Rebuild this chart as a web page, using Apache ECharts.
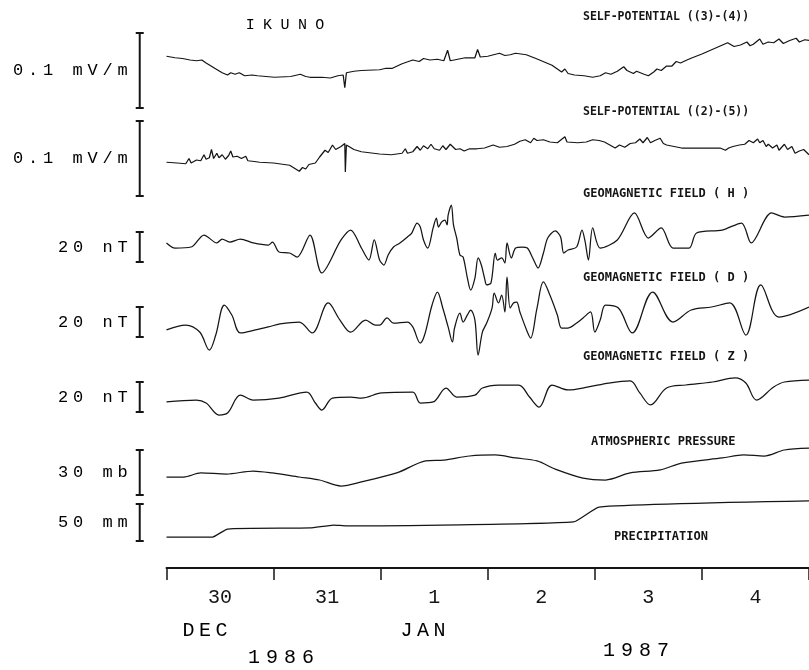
<!DOCTYPE html>
<html><head><meta charset="utf-8">
<script src="https://cdn.jsdelivr.net/npm/echarts@6/dist/echarts.min.js"></script>
<style>html,body{margin:0;padding:0;background:#fff}#c{width:809px;height:670px}</style>
</head><body><div id="c"></div>
<script>
// ---------- DATA (time in days from 30 Dec 1986 00:00) ----------
const dayLabels = ['30', '31', '1', '2', '3', '4'];
const monthLabels = ['DEC', 'JAN'];
const yearLabels = ['1986', '1987'];

// Self-potential (3)-(4), mV/m (relative)
const sp34 = [[0,0.069],[0.08,0.067],[0.15,0.066],[0.22,0.064],[0.28,0.063],[0.33,0.064],[0.37,0.060],[0.45,0.053],[0.52,0.047],[0.57,0.044],[0.60,0.047],[0.64,0.045],[0.68,0.047],[0.73,0.043],[0.80,0.044],[0.85,0.043],[1.01,0.041],[1.16,0.042],[1.25,0.045],[1.30,0.042],[1.34,0.041],[1.45,0.041],[1.53,0.040],[1.60,0.043],[1.65,0.044],[1.665,0.027],[1.68,0.047],[1.75,0.049],[1.82,0.050],[1.99,0.051],[2.05,0.053],[2.11,0.053],[2.20,0.059],[2.30,0.064],[2.36,0.062],[2.40,0.066],[2.46,0.064],[2.53,0.065],[2.59,0.063],[2.625,0.077],[2.65,0.063],[2.72,0.065],[2.79,0.067],[2.88,0.067],[2.905,0.078],[2.93,0.068],[3.00,0.069],[3.11,0.073],[3.16,0.070],[3.21,0.071],[3.26,0.073],[3.36,0.071],[3.45,0.066],[3.55,0.060],[3.60,0.057],[3.65,0.052],[3.69,0.048],[3.72,0.052],[3.75,0.046],[3.81,0.044],[3.90,0.043],[3.98,0.041],[4.05,0.043],[4.10,0.047],[4.15,0.045],[4.21,0.049],[4.27,0.055],[4.30,0.050],[4.36,0.046],[4.39,0.049],[4.46,0.045],[4.50,0.043],[4.55,0.048],[4.58,0.052],[4.62,0.050],[4.67,0.056],[4.72,0.056],[4.76,0.062],[4.80,0.060],[4.86,0.064],[4.91,0.067],[5.00,0.072],[5.08,0.077],[5.16,0.082],[5.24,0.087],[5.30,0.082],[5.36,0.084],[5.42,0.088],[5.45,0.083],[5.48,0.085],[5.54,0.092],[5.57,0.085],[5.62,0.088],[5.67,0.087],[5.72,0.092],[5.76,0.086],[5.82,0.090],[5.88,0.093],[5.91,0.088],[5.96,0.091],[6.00,0.090]];
// Self-potential (2)-(5), mV/m (relative)
const sp25 = [[0,0.045],[0.10,0.044],[0.18,0.043],[0.21,0.050],[0.23,0.044],[0.28,0.048],[0.32,0.047],[0.35,0.055],[0.37,0.049],[0.40,0.051],[0.42,0.062],[0.44,0.050],[0.47,0.057],[0.49,0.051],[0.52,0.055],[0.55,0.049],[0.58,0.054],[0.60,0.060],[0.62,0.052],[0.66,0.053],[0.70,0.050],[0.74,0.053],[0.76,0.047],[0.82,0.046],[0.87,0.045],[1.00,0.044],[1.15,0.041],[1.24,0.033],[1.27,0.038],[1.30,0.036],[1.33,0.042],[1.39,0.044],[1.43,0.052],[1.48,0.061],[1.51,0.058],[1.55,0.068],[1.58,0.062],[1.63,0.066],[1.665,0.070],[1.67,0.032],[1.68,0.068],[1.75,0.062],[1.82,0.059],[1.99,0.056],[2.10,0.055],[2.20,0.057],[2.23,0.063],[2.25,0.057],[2.30,0.059],[2.34,0.066],[2.37,0.061],[2.40,0.067],[2.44,0.063],[2.47,0.069],[2.50,0.063],[2.55,0.061],[2.58,0.067],[2.61,0.062],[2.65,0.069],[2.70,0.062],[2.74,0.063],[2.78,0.060],[2.83,0.063],[2.90,0.063],[2.97,0.064],[3.05,0.068],[3.11,0.065],[3.18,0.066],[3.25,0.069],[3.30,0.073],[3.35,0.075],[3.40,0.071],[3.43,0.077],[3.46,0.074],[3.52,0.075],[3.58,0.072],[3.65,0.071],[3.72,0.079],[3.74,0.072],[3.84,0.071],[3.92,0.072],[3.98,0.075],[4.04,0.074],[4.09,0.072],[4.14,0.068],[4.19,0.064],[4.23,0.068],[4.28,0.065],[4.33,0.070],[4.38,0.071],[4.42,0.076],[4.45,0.071],[4.49,0.078],[4.52,0.071],[4.56,0.074],[4.61,0.077],[4.64,0.070],[4.67,0.068],[4.74,0.066],[4.81,0.064],[4.90,0.064],[4.98,0.064],[5.10,0.064],[5.17,0.064],[5.22,0.061],[5.25,0.064],[5.29,0.066],[5.35,0.068],[5.40,0.069],[5.44,0.074],[5.48,0.071],[5.52,0.076],[5.54,0.071],[5.57,0.074],[5.60,0.066],[5.62,0.069],[5.66,0.064],[5.70,0.068],[5.72,0.061],[5.77,0.069],[5.80,0.062],[5.84,0.066],[5.87,0.057],[5.91,0.060],[5.95,0.062],[6.00,0.055]];
// Geomagnetic H, nT (relative)
const magH = [[0,12.7],[0.08,9.3],[0.23,10.0],[0.35,18.0],[0.47,12.7],[0.52,15.3],[0.59,13.3],[0.69,15.3],[0.81,12.7],[0.95,11.3],[0.99,13.3],[1.05,6.7],[1.15,6.0],[1.22,3.3],[1.34,18.0],[1.45,-7.3],[1.63,14.7],[1.72,21.3],[1.82,9.3],[1.89,1.3],[1.94,14.7],[1.99,1.3],[2.03,-2.0],[2.07,4.7],[2.12,10.0],[2.18,12.7],[2.25,16.7],[2.29,19.3],[2.34,26.0],[2.37,23.3],[2.40,14.7],[2.44,9.3],[2.49,22.7],[2.52,29.3],[2.54,23.3],[2.57,26.7],[2.60,28.0],[2.62,24.7],[2.63,31.3],[2.66,38.0],[2.68,24.7],[2.71,16.0],[2.74,4.7],[2.77,3.3],[2.81,-10.7],[2.84,-18.7],[2.88,-10.7],[2.91,2.7],[2.94,-2.0],[2.97,-10.7],[2.99,-15.3],[3.03,-14.0],[3.07,6.0],[3.09,1.3],[3.13,2.7],[3.16,-0.7],[3.18,12.7],[3.22,2.7],[3.26,9.3],[3.32,10.0],[3.37,9.3],[3.42,2.7],[3.47,-4.0],[3.52,6.0],[3.56,16.0],[3.63,20.7],[3.68,16.7],[3.71,6.0],[3.75,8.0],[3.83,10.0],[3.88,21.3],[3.91,13.3],[3.94,1.3],[3.98,22.7],[4.05,9.3],[4.21,14.7],[4.37,32.7],[4.50,16.0],[4.62,22.7],[4.73,9.3],[4.88,9.3],[4.95,19.3],[5.19,21.3],[5.37,26.0],[5.46,12.7],[5.65,32.7],[5.77,30.0],[6.00,31.3]];
// Geomagnetic D, nT (relative)
const magD = [[0,4.7],[0.18,8.0],[0.31,3.3],[0.40,-8.7],[0.46,1.3],[0.54,21.3],[0.61,14.7],[0.69,2.7],[0.83,4.7],[0.95,6.7],[1.06,8.7],[1.24,10.0],[1.36,2.7],[1.51,22.7],[1.62,11.3],[1.72,3.3],[1.86,11.3],[1.95,8.0],[1.99,8.0],[2.06,12.7],[2.12,9.3],[2.25,10.0],[2.30,6.7],[2.37,-4.0],[2.41,1.3],[2.48,21.3],[2.53,30.0],[2.58,19.3],[2.63,6.7],[2.67,-3.3],[2.69,6.0],[2.74,16.0],[2.77,10.0],[2.81,14.7],[2.84,18.0],[2.88,11.3],[2.91,-12.0],[2.95,3.3],[2.99,9.3],[3.04,19.3],[3.06,29.3],[3.10,22.7],[3.13,28.0],[3.16,16.7],[3.18,40.0],[3.21,19.3],[3.24,22.7],[3.27,23.3],[3.30,16.7],[3.37,3.3],[3.40,-0.7],[3.46,19.3],[3.52,36.7],[3.58,28.0],[3.65,14.7],[3.69,6.0],[3.75,6.0],[3.83,9.3],[3.89,12.7],[3.96,16.7],[4.00,3.3],[4.05,11.3],[4.10,21.3],[4.22,19.3],[4.35,2.7],[4.54,30.0],[4.73,10.0],[4.90,18.0],[5.09,20.0],[5.26,22.7],[5.41,1.3],[5.55,34.7],[5.72,13.3],[6.00,20.0]];
// Geomagnetic Z, nT (relative)
const magZ = [[0,6.7],[0.28,8.0],[0.37,6.0],[0.49,-2.0],[0.57,-0.7],[0.69,11.3],[0.81,8.0],[1.05,9.3],[1.31,13.3],[1.39,6.0],[1.45,1.3],[1.55,9.3],[1.72,10.0],[1.82,9.3],[2.01,12.7],[2.30,13.3],[2.37,6.0],[2.49,6.7],[2.61,16.0],[2.71,10.0],[2.88,11.3],[2.95,16.0],[3.10,18.0],[3.29,18.0],[3.39,10.0],[3.48,3.3],[3.60,18.0],[3.75,14.7],[3.94,16.7],[4.13,19.3],[4.33,20.7],[4.42,12.7],[4.52,4.7],[4.67,16.0],[4.85,18.0],[5.10,20.0],[5.31,22.7],[5.41,19.3],[5.51,8.0],[5.67,16.7],[5.77,20.0],[6.00,21.3]];
// Atmospheric pressure, mb (relative)
const pressure = [[0,12.0],[0.16,12.0],[0.32,14.7],[0.56,14.0],[0.81,16.0],[0.99,14.7],[1.24,12.0],[1.43,10.0],[1.63,6.0],[1.82,8.7],[2.15,14.7],[2.42,22.7],[2.59,23.3],[2.83,26.0],[3.07,26.7],[3.26,24.7],[3.46,22.7],[3.63,17.3],[3.89,11.3],[4.10,10.0],[4.33,14.7],[4.61,16.7],[4.81,21.3],[5.19,24.7],[5.39,26.7],[5.58,26.0],[5.77,30.0],[6.00,31.3]];
// Cumulative precipitation, mm (relative)
const precip = [[0,5.4],[0.43,5.4],[0.57,16.2],[1.34,17.6],[1.56,21.6],[1.68,20.3],[3.80,25.7],[4.04,45.9],[6.00,54.1]];

// scale bar sizes and their labels
const scaleSizes = [0.1, 0.1, 20, 20, 20, 30, 50];
const scaleUnits = ['0.1 mV/m', '0.1 mV/m', '20 nT', '20 nT', '20 nT', '30 mb', '50 mm'];
const traceNames = ['SELF-POTENTIAL ((3)-(4))', 'SELF-POTENTIAL ((2)-(5))', 'GEOMAGNETIC FIELD ( H )',
  'GEOMAGNETIC FIELD ( D )', 'GEOMAGNETIC FIELD ( Z )', 'ATMOSPHERIC PRESSURE', 'PRECIPITATION'];

// ---------- LAYOUT ----------
const W = 809, H = 670;
const AX_LEFT = 166.5, AX_Y = 568;
const PX_DAY = (W - AX_LEFT) / 6;
const X_MIN = -AX_LEFT / PX_DAY;
const BAR_X = -0.25;
const rows = [
  { zeroY: 108, ppu: 750, smooth: false }, { zeroY: 196, ppu: 750, smooth: false },
  { zeroY: 262, ppu: 1.5, smooth: 0.3 }, { zeroY: 337, ppu: 1.5, smooth: 0.35 }, { zeroY: 412, ppu: 1.5, smooth: 0.35 },
  { zeroY: 495, ppu: 1.5, smooth: 0.3 }, { zeroY: 541, ppu: 0.74, smooth: 0.15 }
];
const nameLabelPos = [[583, 17], [583, 112], [583, 194], [583, 278], [583, 357], [591, 442], [614, 537]];
const traces = [sp34, sp25, magH, magD, magZ, pressure, precip];
const INK = '#151515';
const MONO = '"Liberation Mono", "DejaVu Sans Mono", monospace';

function spaced(str, cls) {
  return str.split('').map(ch => ch === ' ' ? '{w| }' : '{' + cls + '|' + ch + '}').join('{g| }');
}
function richSet(size, gap, word) {
  return {
    c: { fontFamily: MONO, fontSize: size, color: INK },
    g: { fontFamily: MONO, fontSize: gap, color: INK },
    w: { fontFamily: MONO, fontSize: word || gap, color: INK }
  };
}

const grid = [], xAxis = [], yAxis = [], series = [];
traces.forEach((data, i) => {
  const r = rows[i];
  const max = r.zeroY / r.ppu;
  const min = max - H / r.ppu;
  grid.push({ left: 0, right: 0, top: 0, bottom: 0, containLabel: false, outerBoundsMode: 'none' });
  xAxis.push({ gridIndex: i, type: 'value', min: X_MIN, max: 6, show: false });
  yAxis.push({ gridIndex: i, type: 'value', min: min, max: max, show: false });
  series.push({
    type: 'line', xAxisIndex: i, yAxisIndex: i, data: data, symbol: 'none', smooth: r.smooth,
    lineStyle: { color: INK, width: 1.25 }, animation: false, silent: true
  });
  const unitText = spaced(scaleUnits[i], 'c');
  series.push({
    type: 'custom', xAxisIndex: i, yAxisIndex: i, animation: false, silent: true,
    data: [[BAR_X, 0, scaleSizes[i]]],
    renderItem: (params, api) => {
      const p0 = api.coord([api.value(0), api.value(1)]);
      const p1 = api.coord([api.value(0), api.value(2)]);
      const s = { stroke: INK, lineWidth: 2 };
      return {
        type: 'group', children: [
          { type: 'line', shape: { x1: p0[0], y1: p0[1], x2: p1[0], y2: p1[1] }, style: s },
          { type: 'line', shape: { x1: p0[0] - 4, y1: p0[1], x2: p0[0] + 4, y2: p0[1] }, style: s },
          { type: 'line', shape: { x1: p1[0] - 4, y1: p1[1], x2: p1[0] + 4, y2: p1[1] }, style: s },
          { type: 'text', style: { text: unitText, rich: richSet(17, 8, 16), x: p0[0] - 12, y: (p0[1] + p1[1]) / 2,
            align: 'right', verticalAlign: 'middle' } }
        ]
      };
    }
  });
});

// time axis grid
const ti = traces.length;
grid.push({ left: AX_LEFT, right: 0, top: 0, bottom: H - AX_Y, containLabel: false, outerBoundsMode: 'none' });
xAxis.push({
  gridIndex: ti, type: 'category', data: dayLabels, boundaryGap: true, position: 'bottom',
  axisLine: { show: true, lineStyle: { color: INK, width: 2 } },
  axisTick: { show: true, length: 12, lineStyle: { color: INK, width: 1.5 } },
  axisLabel: { margin: 20, fontFamily: MONO, fontSize: 20, color: INK }
});
yAxis.push({ gridIndex: ti, type: 'value', show: false });

const graphic = [];
traceNames.forEach((t, i) => {
  graphic.push({ type: 'text', x: nameLabelPos[i][0], y: nameLabelPos[i][1], silent: true,
    style: { text: t, fontFamily: '"DejaVu Sans Mono", monospace', fontWeight: 'bold',
      fontSize: i < 2 ? 11.5 : 12, fill: INK, verticalAlign: 'middle', align: 'left' } });
});
const captions = [
  { t: 'IKUNO', x: 285, y: 25, rich: richSet(15, 14) },
  { t: monthLabels[0], x: 205, y: 631, rich: richSet(20, 7.5) },
  { t: monthLabels[1], x: 423, y: 631, rich: richSet(20, 7.5) },
  { t: yearLabels[0], x: 281, y: 658, rich: richSet(20, 10) },
  { t: yearLabels[1], x: 636, y: 651, rich: richSet(20, 10) }
];
captions.forEach(c => {
  graphic.push({ type: 'text', x: c.x, y: c.y, silent: true,
    style: { text: spaced(c.t, 'c'), rich: c.rich, align: 'center', verticalAlign: 'middle' } });
});

const chart = echarts.init(document.getElementById('c'), null, { renderer: 'canvas' });
chart.setOption({ backgroundColor: '#fff', animation: false, grid, xAxis, yAxis, series, graphic });
</script></body></html>
